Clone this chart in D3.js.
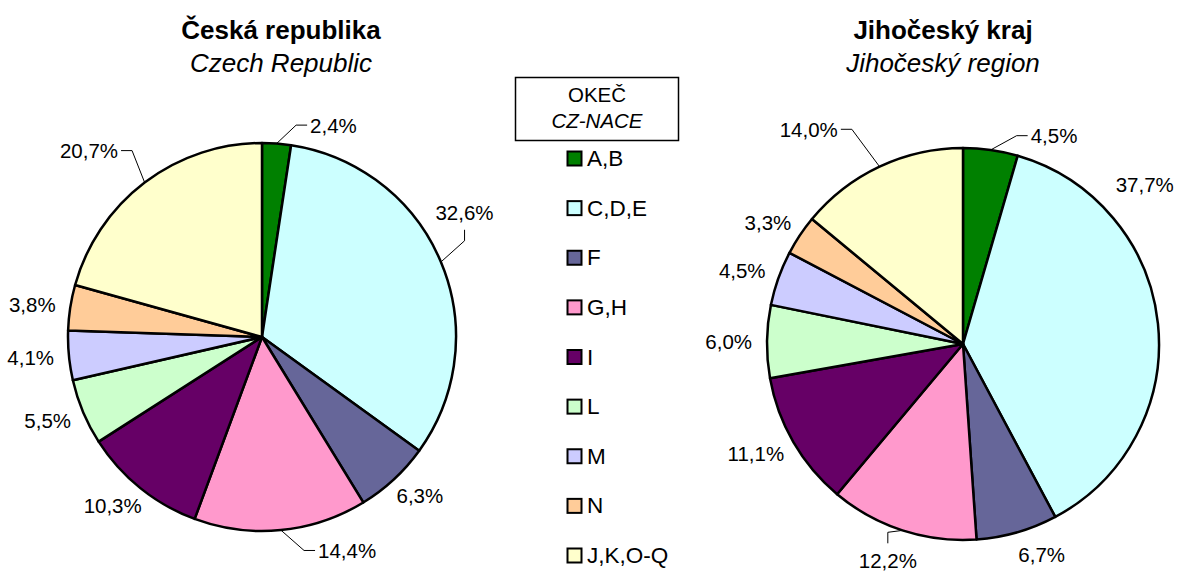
<!DOCTYPE html>
<html>
<head>
<meta charset="utf-8">
<script src="https://cdnjs.cloudflare.com/ajax/libs/d3/7.8.5/d3.min.js"></script>
<style>
	body { margin: 0; background: #fff; }
	svg { display: block; font-family: "Liberation Sans", Arial, sans-serif; }
</style>
</head>
<body>
<div id="chart"></div>
<script>
// categories (CZ-NACE sections) and shares in %
const categories = ["A,B", "C,D,E", "F", "G,H", "I", "L", "M", "N", "J,K,O-Q"];
const czValues = [2.4, 32.6, 6.3, 14.4, 10.3, 5.5, 4.1, 3.8, 20.7];
const jcValues = [4.5, 37.7, 6.7, 12.2, 11.1, 6.0, 4.5, 3.3, 14.0];
const sliceColors = ["#008000", "#ccffff", "#666699", "#ff99cc", "#660066",
	"#ccffcc", "#ccccff", "#ffcc99", "#ffffcc"];

const czTitle = ["Česká republika", "Czech Republic"];
const jcTitle = ["Jihočeský kraj", "Jihočeský region"];
const legendTitle = ["OKEČ", "CZ-NACE"];

// labels that were dragged away from their default spot: [dx, dy, leader line]
const czNudge = {0: [54, 4, true], 1: [-17, -41, true], 3: [62, -2, true], 8: [-29, -14, true]};
const jcNudge = {0: [58, 8, true], 1: [-57, -137, false], 2: [14, 0, false], 3: [-1, 9, true], 8: [-52, -17, true]};

const width = 1177, height = 572;
const labelSize = 20.5, capH = 15, gap = 15;

const fmt = v => d3.format(".1f")(v).replace(".", ",") + "%";

const svg = d3.select("#chart").append("svg")
	.attr("width", width)
	.attr("height", height);

svg.append("rect")
	.attr("width", width)
	.attr("height", height)
	.attr("fill", "#fff");

function drawPie(cx, cy, r, values, title, titleX, nudge) {

	// titles
	svg.append("text")
		.attr("x", titleX).attr("y", 39)
		.attr("text-anchor", "middle")
		.attr("font-size", 26).attr("font-weight", "bold")
		.text(title[0]);
	svg.append("text")
		.attr("x", titleX).attr("y", 72)
		.attr("text-anchor", "middle")
		.attr("font-size", 26).attr("font-style", "italic")
		.text(title[1]);

	const g = svg.append("g")
		.attr("transform", "translate(" + cx + "," + cy + ")");

	const pie = d3.pie().sort(null).value(d => d);
	const arcs = pie(values);
	const arc = d3.arc().innerRadius(0).outerRadius(r);

	g.selectAll("path.slice")
		.data(arcs)
		.join("path")
		.attr("class", "slice")
		.attr("d", arc)
		.attr("fill", d => sliceColors[d.index])
		.attr("stroke", "#000")
		.attr("stroke-width", 2.5)
		.attr("stroke-linejoin", "round");

	//labels sit just outside the rim, pushed out by half their box
	arcs.forEach(d => {
		const a = (d.startAngle + d.endAngle) / 2;
		const s = Math.sin(a), c = Math.cos(a);

		const t = g.append("text")
			.attr("text-anchor", "middle")
			.attr("font-size", labelSize)
			.text(fmt(d.data));

		const w = t.node().getComputedTextLength();
		let x = (r + gap) * s + s * w / 2;
		let y = -(r + gap) * c - c * capH / 2;

		const n = nudge[d.index];
		if (n) {
			x += n[0];
			y += n[1];
		}
		t.attr("x", x).attr("y", y + capH / 2);

		if (n && n[2]) {
			const p = [r * s, -r * c];
			let end, elbow;
			if (Math.abs(p[0] - x) > w / 2) {
				const dir = p[0] < x ? -1 : 1;
				end = [x + dir * (w / 2 + 3), y];
				elbow = [x + dir * (w / 2 + 14), y];
			} else {
				const dir = p[1] < y ? -1 : 1;
				end = [x, y + dir * (capH / 2 + 10)];
				elbow = [x, y + dir * (capH / 2 + 21)];
			}
			g.append("path")
				.attr("d", d3.line()([p, elbow, end]))
				.attr("fill", "none")
				.attr("stroke", "#000")
				.attr("stroke-width", 1);
		}
	});
}

drawPie(262, 337, 194, czValues, czTitle, 281, czNudge);
drawPie(963, 344, 196, jcValues, jcTitle, 943, jcNudge);

// legend
const legend = svg.append("g");

legend.append("rect")
	.attr("x", 515.5).attr("y", 77.5)
	.attr("width", 163).attr("height", 63)
	.attr("fill", "#fff")
	.attr("stroke", "#000")
	.attr("stroke-width", 1.5);

legend.append("text")
	.attr("x", 597).attr("y", 102)
	.attr("text-anchor", "middle")
	.attr("font-size", 20.5)
	.text(legendTitle[0]);
legend.append("text")
	.attr("x", 597).attr("y", 128)
	.attr("text-anchor", "middle")
	.attr("font-size", 20.5).attr("font-style", "italic")
	.text(legendTitle[1]);

const legendY = d3.scaleLinear()
	.domain([0, categories.length - 1])
	.range([166, 563]);

const items = legend.selectAll("g.item")
	.data(categories)
	.join("g")
	.attr("class", "item")
	.attr("transform", (d, i) => "translate(567," + legendY(i) + ")");

items.append("rect")
	.attr("x", 0.5).attr("y", -14.5)
	.attr("width", 14).attr("height", 14)
	.attr("fill", (d, i) => sliceColors[i])
	.attr("stroke", "#000")
	.attr("stroke-width", 2);

items.append("text")
	.attr("x", 20).attr("y", 0)
	.attr("font-size", 22.5)
	.text(d => d);
</script>
</body>
</html>
